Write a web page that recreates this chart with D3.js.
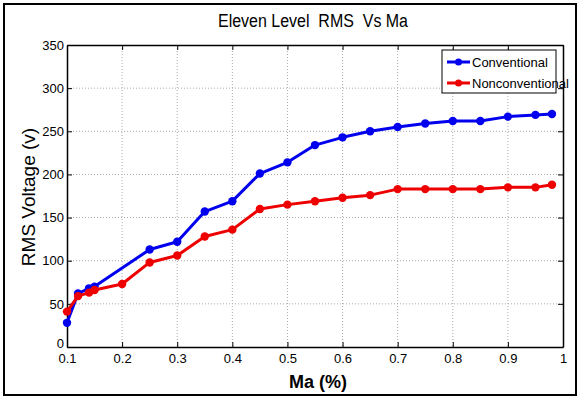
<!DOCTYPE html>
<html><head><meta charset="utf-8">
<script src="https://cdn.jsdelivr.net/npm/d3@7"></script>
<style>
body{margin:0;background:#fff;}
svg{display:block;}
text{font-family:"Liberation Sans Narrow","Arial Narrow","Liberation Sans",sans-serif;}
</style></head>
<body><svg id="c" width="580" height="398"></svg>
<script>
const maConv = [0.1,0.12,0.14,0.15,0.25,0.3,0.35,0.4,0.45,0.5,0.55,0.6,0.65,0.7,0.75,0.8,0.85,0.9,0.95,0.98];
const conventional = [28,62,68,70,113,122,157,169,201,214,234,243,250,255,259,262,262,267,269,270];
const maNon = [0.1,0.12,0.14,0.15,0.2,0.25,0.3,0.35,0.4,0.45,0.5,0.55,0.6,0.65,0.7,0.75,0.8,0.85,0.9,0.95,0.98];
const nonconventional = [41,59,63,66,73,98,106,128,136,160,165,169,173,176,183,183,183,183,185,185,188];
const xTicks = [0.1,0.2,0.3,0.4,0.5,0.6,0.7,0.8,0.9,1];
const yTicks = [0,50,100,150,200,250,300,350];
const seriesNames = ["Conventional","Nonconventional"];
const colors = ["#0000ee","#ee0000"];

const svg = d3.select("#c");
const L=67, R=563, T=45, B=347;
const x = d3.scaleLinear().domain([0.1,1]).range([L,R]);
const y = d3.scaleLinear().domain([0,350]).range([B,T]);

svg.append("rect").attr("x",4).attr("y",4).attr("width",572).attr("height",391)
  .attr("fill","none").attr("stroke","#000").attr("stroke-width",2);

svg.append("g").selectAll("line").data(xTicks.slice(1,-1)).join("line")
  .attr("x1",d=>x(d)).attr("x2",d=>x(d)).attr("y1",T).attr("y2",B)
  .attr("stroke","#aaa").attr("stroke-dasharray","1,2").attr("stroke-width",1);
svg.append("g").selectAll("line").data(yTicks.slice(1,-1)).join("line")
  .attr("y1",d=>y(d)).attr("y2",d=>y(d)).attr("x1",L).attr("x2",R)
  .attr("stroke","#aaa").attr("stroke-dasharray","1,2").attr("stroke-width",1);

const fmtX = d=> d===1 ? "1" : d3.format(".1f")(d);
const gx = svg.append("g").attr("transform",`translate(0,${B})`)
  .call(d3.axisBottom(x).tickValues(xTicks).tickFormat(fmtX).tickSizeInner(-5).tickSizeOuter(0).tickPadding(9));
const gxt = svg.append("g").attr("transform",`translate(0,${T})`)
  .call(d3.axisTop(x).tickValues(xTicks).tickFormat("").tickSizeInner(-5).tickSizeOuter(0));
const gy = svg.append("g").attr("transform",`translate(${L},0)`)
  .call(d3.axisLeft(y).tickValues(yTicks).tickSizeInner(-5).tickSizeOuter(0).tickPadding(3));
const gyr = svg.append("g").attr("transform",`translate(${R},0)`)
  .call(d3.axisRight(y).tickValues(yTicks).tickFormat("").tickSizeInner(-5).tickSizeOuter(0));
[gx,gxt,gy,gyr].forEach(g=>{
  g.select(".domain").attr("stroke","#000").attr("stroke-width",1.5);
  g.selectAll(".tick line").attr("stroke","#000");
  g.selectAll("text").attr("font-size",13).attr("fill","#000");
});
gy.selectAll(".tick text").filter(d=>d===0).attr("dy","0.05em");
gx.selectAll(".tick text").attr("dy","0.55em");

const data = [
  maConv.map((m,i)=>[m,conventional[i]]),
  maNon.map((m,i)=>[m,nonconventional[i]])
];
const line = d3.line().x(d=>x(d[0])).y(d=>y(d[1]));
data.forEach((s,k)=>{
  svg.append("path").datum(s).attr("d",line).attr("fill","none")
    .attr("stroke",colors[k]).attr("stroke-width",3).attr("stroke-linejoin","round");
  svg.append("g").selectAll("circle").data(s).join("circle")
    .attr("cx",d=>x(d[0])).attr("cy",d=>y(d[1])).attr("r",4.2).attr("fill",colors[k]);
});

svg.append("text").attr("x",313).attr("y",27).attr("text-anchor","middle")
  .attr("font-size",18).attr("fill","#000").attr("textLength",190).attr("lengthAdjust","spacingAndGlyphs")
  .attr("xml:space","preserve").text("Eleven Level  RMS  Vs Ma");
svg.append("text").attr("x",318).attr("y",388).attr("text-anchor","middle")
  .attr("font-size",18).attr("font-weight","bold").attr("fill","#000")
  .attr("textLength",58).attr("lengthAdjust","spacingAndGlyphs").text("Ma (%)");
svg.append("text").attr("transform","translate(35,197) rotate(-90)").attr("text-anchor","middle")
  .attr("font-size",19).attr("fill","#000").text("RMS Voltage (v)");

const lg = svg.append("g");
lg.append("rect").attr("x",442).attr("y",50).attr("width",114).attr("height",43)
  .attr("fill","#fff").attr("stroke","#000").attr("stroke-width",1);
seriesNames.forEach((n,k)=>{
  const yy = 62 + k*21;
  lg.append("line").attr("x1",447).attr("x2",470).attr("y1",yy).attr("y2",yy)
    .attr("stroke",colors[k]).attr("stroke-width",3);
  lg.append("circle").attr("cx",458.5).attr("cy",yy).attr("r",3.5).attr("fill",colors[k]);
  lg.append("text").attr("x",472).attr("y",yy+4.5).attr("font-size",13).attr("fill","#000").text(n);
});
</script></body></html>
